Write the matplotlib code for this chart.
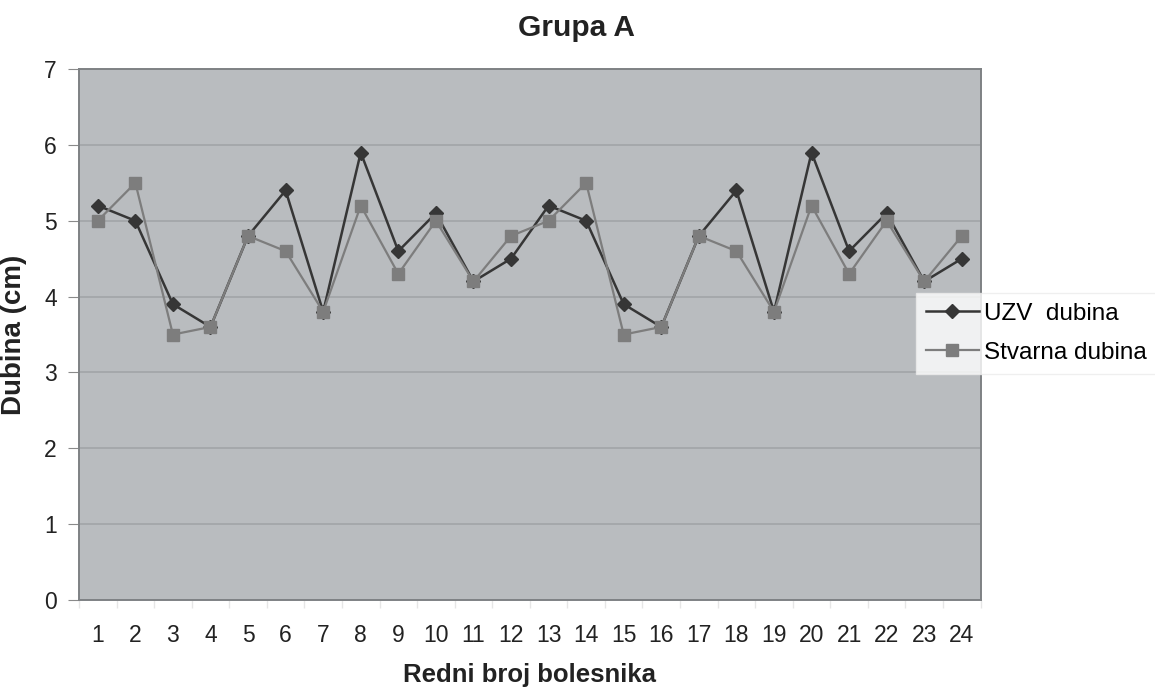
import matplotlib
matplotlib.use('Agg')
import matplotlib.pyplot as plt
import numpy as np

patients = list(range(1, 25))
uzv = [5.2, 5.0, 3.9, 3.6, 4.8, 5.4, 3.8, 5.9, 4.6, 5.1, 4.2, 4.5,
       5.2, 5.0, 3.9, 3.6, 4.8, 5.4, 3.8, 5.9, 4.6, 5.1, 4.2, 4.5]
stvarna = [5.0, 5.5, 3.5, 3.6, 4.8, 4.6, 3.8, 5.2, 4.3, 5.0, 4.2, 4.8,
           5.0, 5.5, 3.5, 3.6, 4.8, 4.6, 3.8, 5.2, 4.3, 5.0, 4.2, 4.8]
yticks = list(range(0, 8))

plt.rcParams['font.family'] = ['Liberation Sans', 'DejaVu Sans']

BG = '#b9bcbf'
GRID = '#a2a5a8'
DARK = '#363636'
GREY = '#7d7d7d'

fig = plt.figure(figsize=(11.55, 6.98), dpi=100)
ax = fig.add_axes([0.0684, 0.1404, 0.7806, 0.7606])
ax.set_facecolor(BG)

ax.plot(patients, uzv, color=DARK, lw=1.8, marker='D', ms=7.5,
        mfc=DARK, mec=DARK, label='UZV  dubina', zorder=3)
ax.plot(patients, stvarna, color=GREY, lw=1.6, marker='s', ms=8,
        mfc=GREY, mec=GREY, label='Stvarna dubina', zorder=4)

ax.set_xlim(0.5, 24.5)
ax.set_ylim(0, 7)
ax.set_yticks(yticks)
ax.set_xticks(patients)
ax.set_xticks(np.arange(0.5, 25, 1), minor=True)
ax.tick_params(axis='x', which='major', length=0, pad=17, labelsize=16.5,
               colors='#222222')
ax.tick_params(axis='x', which='minor', length=6, color='#e6e6e6',
               width=1)
ax.tick_params(axis='y', length=8, color='#8a8a8a', pad=8, labelsize=16.5,
               labelcolor='#222222')
ax.yaxis.grid(True, color=GRID, lw=1.2)
ax.set_axisbelow(True)
for s in ax.spines.values():
    s.set_color('#7e8184')
    s.set_linewidth(1.4)

ax.set_xlabel('Redni broj bolesnika', fontsize=18.5, fontweight='bold',
              labelpad=12, color='#222222')
ax.set_ylabel('Dubina (cm)', fontsize=20, fontweight='bold',
              labelpad=12, color='#222222')
fig.text(0.499, 1 - 28 / 698, 'Grupa A', ha='center', va='center',
         fontsize=21.5, fontweight='bold', color='#222222')

leg = fig.legend(loc='upper left', bbox_to_anchor=(0.793, 0.58),
                 bbox_transform=fig.transFigure, borderaxespad=0,
                 fontsize=17.5, frameon=True, fancybox=False,
                 handlelength=2.2, handletextpad=0.2, borderpad=0.4,
                 labelspacing=0.7)
leg.get_frame().set_edgecolor('#ececec')
leg.get_frame().set_linewidth(1)

fig.savefig('out.png', dpi=100)
